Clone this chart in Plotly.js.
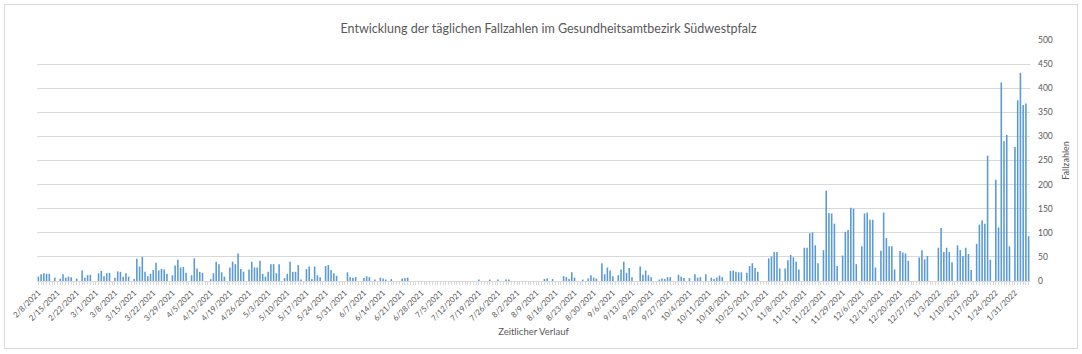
<!DOCTYPE html>
<html>
<head>
<meta charset="utf-8">
<script src="https://cdn.plot.ly/plotly-3.0.1.min.js"></script>
<style>
  html, body { margin: 0; padding: 0; background: #ffffff; }
  #wrap { position: relative; width: 1082px; height: 354px; }
  #chart { width: 1082px; height: 354px; }
  #frame { position: absolute; left: 4px; top: 4px; width: 1072px; height: 343px;
           border: 1px solid #d9d9d9; pointer-events: none; }
</style>
</head>
<body>
<div id="wrap">
  <div id="chart"></div>
  <div id="frame"></div>
</div>
<script>
// Daily case counts, one row per week (Mon..Sun), starting Monday 2021-02-08
const startDate = '2021-02-08';

const casesFebToMay = [
  9, 14, 16, 15, 15, 0, 7,
  0, 5, 14, 7, 9, 8, 0,
  5, 0, 22, 7, 12, 13, 0,
  0, 16, 21, 10, 16, 17, 0,
  7, 20, 19, 9, 16, 9, 0,
  4, 46, 30, 50, 19, 10, 15,
  23, 38, 22, 25, 24, 15, 0,
  12, 32, 44, 28, 29, 17, 0,
  12, 47, 26, 19, 17, 0, 0,
  4, 16, 40, 35, 18, 9, 0,
  28, 40, 35, 57, 25, 19, 0,
  24, 40, 28, 28, 42, 15, 9,
  19, 35, 35, 16, 35, 0, 6
];

const casesMayToAug = [
  15, 40, 19, 19, 33, 3, 0,
  25, 30, 4, 30, 12, 8, 0,
  31, 33, 23, 16, 11, 0, 0,
  0, 18, 8, 7, 8, 0, 0,
  6, 10, 8, 0, 3, 0, 7,
  5, 3, 0, 4, 0, 0, 0,
  5, 6, 7, 0, 0, 0, 0,
  0, 0, 0, 0, 0, 0, 0,
  0, 0, 0, 0, 0, 0, 0,
  0, 0, 0, 0, 0, 0, 0,
  3, 0, 0, 0, 3, 0, 0,
  3, 0, 0, 3, 3, 0, 0,
  0, 0, 0, 0, 0, 0, 0
];

const casesAugToOct = [
  0, 0, 0, 4, 5, 0, 4,
  0, 0, 0, 10, 8, 4, 18,
  7, 0, 0, 3, 0, 5, 12,
  7, 5, 0, 37, 14, 28, 22,
  10, 0, 12, 24, 40, 17, 27,
  8, 0, 0, 30, 13, 22, 12,
  8, 0, 0, 3, 5, 4, 8,
  8, 0, 0, 13, 9, 6, 0,
  6, 0, 14, 7, 8, 0, 14,
  0, 7, 4, 7, 11, 8, 0,
  0, 21, 22, 19, 18, 18, 0,
  17, 31, 37, 27, 19, 0, 0,
  0, 47, 51, 60, 60, 26, 0
];

const casesNovToFeb = [
  26, 43, 54, 49, 40, 24, 0,
  69, 69, 99, 101, 74, 37, 0,
  64, 187, 141, 140, 119, 31, 0,
  53, 102, 106, 152, 150, 35, 0,
  72, 140, 142, 127, 127, 28, 0,
  63, 142, 89, 72, 72, 24, 0,
  62, 59, 57, 42, 0, 0, 0,
  49, 64, 45, 52, 0, 0, 0,
  69, 110, 60, 69, 60, 39, 0,
  74, 64, 52, 69, 56, 23, 0,
  77, 117, 126, 119, 260, 44, 0,
  210, 111, 412, 290, 303, 72, 0,
  278, 375, 432, 365, 368, 93
];

const cases = [].concat(casesFebToMay, casesMayToAug, casesAugToOct, casesNovToFeb);

// category dates, one per value
function isoDay(d) {
  return d.toISOString().slice(0, 10);
}
const dates = [];
const t0 = new Date(startDate + 'T00:00:00Z');
for (let i = 0; i < cases.length; i++) {
  dates.push(isoDay(new Date(t0.getTime() + i * 86400000)));
}

const titleText = 'Entwicklung der täglichen Fallzahlen im Gesundheitsamtbezirk Südwestpfalz';
const xTitle = 'Zeitlicher Verlauf';
const yTitle = 'Fallzahlen';

const DAY = 86400000;
const first = new Date(t0.getTime() - DAY / 2);
const last = new Date(t0.getTime() + (cases.length - 1) * DAY + DAY / 2);

const FONT = 'Lato, "Open Sans", sans-serif';
const GREY = '#595959';

const trace = {
  type: 'bar',
  x: dates,
  y: cases,
  marker: { color: '#5B9BD5', line: { width: 0 } },
  hoverinfo: 'x+y'
};

const layout = {
  width: 1082,
  height: 354,
  margin: { l: 37, r: 52, t: 40, b: 73, pad: 0 },
  paper_bgcolor: '#ffffff',
  plot_bgcolor: '#ffffff',
  bargap: 0.42,
  showlegend: false,
  font: { family: FONT, color: GREY, size: 9 },
  title: {
    text: titleText,
    font: { family: FONT, size: 12.5, color: GREY },
    xref: 'container', x: 0.507, xanchor: 'center',
    yref: 'container', y: 0.918, yanchor: 'middle'
  },
  xaxis: {
    type: 'date',
    range: [first.toISOString(), last.toISOString()],
    tick0: startDate,
    dtick: 7 * DAY,
    tickformat: '%-m/%-d/%Y',
    tickangle: -45,
    tickfont: { family: FONT, size: 8, color: GREY },
    ticks: 'outside',
    ticklen: 3,
    tickcolor: '#d9d9d9',
    minor: { dtick: DAY, ticks: 'outside', ticklen: 3, tickcolor: '#d9d9d9', showgrid: false },
    showgrid: false,
    showline: true,
    linecolor: '#d9d9d9',
    linewidth: 1,
    zeroline: false,
    automargin: false,
    title: { text: xTitle, font: { family: FONT, size: 9.5, color: GREY }, standoff: 3 }
  },
  yaxis: {
    side: 'right',
    range: [0, 500],
    dtick: 50,
    tick0: 0,
    showgrid: true,
    gridcolor: '#d9d9d9',
    gridwidth: 1,
    zeroline: false,
    showline: false,
    ticks: '',
    ticklabelstandoff: 7,
    tickfont: { family: FONT, size: 8.5, color: GREY },
    automargin: false,
    title: { text: yTitle, font: { family: FONT, size: 9, color: GREY }, standoff: 10 }
  }
};

Plotly.newPlot('chart', [trace], layout, { displayModeBar: false, staticPlot: true });
</script>
</body>
</html>
